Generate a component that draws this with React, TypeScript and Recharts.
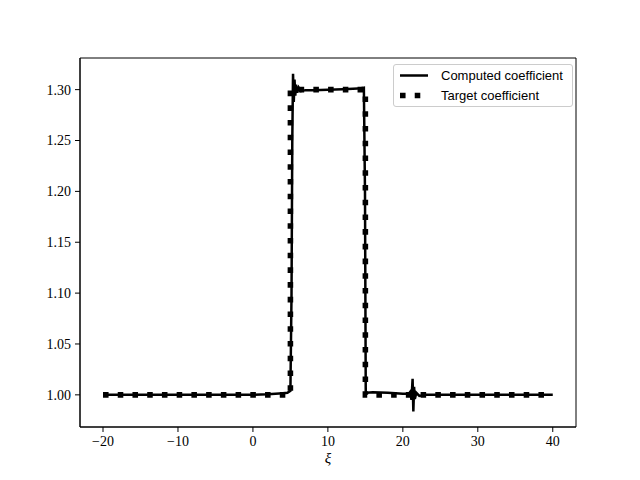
import { LineChart, Line, XAxis, YAxis, ReferenceArea } from "recharts";

// computed coefficient
const computedXi = [
  -20, -15, -10, -5, 0, 2, 3, 4, 4.6, 5.0, 5.15, 5.25, 5.35, 5.45, 5.55, 5.65,
  5.75, 5.9, 6.1, 6.4, 7, 8, 10, 12, 14, 14.8, 14.95, 15.05, 15.2, 16, 18, 19,
  20, 20.8, 21.0, 21.15, 21.3, 21.4, 21.5, 21.6, 21.8, 22.2, 23, 30, 40,
];
const computedValue = [
  1.0, 1.0, 1.0, 1.0, 1.0, 1.0005, 1.001, 1.0015, 1.002, 1.004, 1.1, 1.25,
  1.3157, 1.288, 1.31, 1.294, 1.305, 1.297, 1.302, 1.2985, 1.2995, 1.2995, 1.3,
  1.3005, 1.301, 1.302, 1.2, 1.002, 1.002, 1.0025, 1.002, 1.0015, 1.001, 1.001,
  1.003, 0.995, 1.0157, 0.9836, 1.008, 0.996, 1.002, 0.999, 1.0, 1.0, 1.0,
];

// target coefficient
const targetXi = [-20, 5, 5, 15, 15, 40];
const targetValue = [1.0, 1.0, 1.3, 1.3, 1.0, 1.0];

const xTicks = [-20, -10, 0, 10, 20, 30, 40];
const yTicks = [1.0, 1.05, 1.1, 1.15, 1.2, 1.25, 1.3];
const xDomain = [-23.07, 43.1];
const yDomain = [0.9684, 1.3311];

const computedData = computedXi.map((xi, i) => ({ xi, value: computedValue[i] }));
const targetData = targetXi.map((xi, i) => ({ xi, value: targetValue[i] }));

const tickFont = { fill: "#000", fontSize: 14, fontFamily: "'Liberation Serif', serif" };
const fmtX = (v: number) => (v < 0 ? "\u2212" + Math.abs(v) : String(v));
const dotted = "5.56 9.17";

export default function App() {
  return (
    <div style={{ position: "absolute", left: 0, top: 0, width: 640, height: 480, background: "#fff" }}>
      <LineChart
        width={640}
        height={480}
        margin={{ top: 58, right: 64, bottom: 13, left: 0 }}
      >
        <XAxis
          dataKey="xi"
          type="number"
          domain={xDomain}
          ticks={xTicks}
          allowDataOverflow
          tickFormatter={fmtX}
          tick={tickFont}
          tickSize={5}
          tickMargin={4}
          height={40}
          axisLine={{ stroke: "#000" }}
          tickLine={{ stroke: "#000" }}
          label={{
            value: "ξ",
            position: "insideBottom",
            offset: 4,
            fill: "#000",
            fontSize: 15,
            fontStyle: "italic",
            fontFamily: "'Liberation Serif', serif",
          }}
        />
        <YAxis
          dataKey="value"
          type="number"
          domain={yDomain}
          ticks={yTicks}
          allowDataOverflow
          tickFormatter={(v: number) => v.toFixed(2)}
          tick={tickFont}
          tickSize={5}
          tickMargin={4}
          width={80}
          axisLine={{ stroke: "#000" }}
          tickLine={{ stroke: "#000" }}
        />
        <ReferenceArea
          x1={xDomain[0]}
          x2={xDomain[1]}
          y1={yDomain[0]}
          y2={yDomain[1]}
          fill="none"
          stroke="#000"
          strokeWidth={1}
          ifOverflow="visible"
        />
        <Line
          data={computedData}
          dataKey="value"
          type="linear"
          stroke="#000"
          strokeWidth={2.5}
          dot={false}
          isAnimationActive={false}
          name="Computed coefficient"
        />
        <Line
          data={targetData}
          dataKey="value"
          type="linear"
          stroke="#000"
          strokeWidth={5.56}
          strokeDasharray={dotted}
          strokeLinecap="butt"
          dot={false}
          isAnimationActive={false}
          name="Target coefficient"
        />
      </LineChart>
      <div
        style={{
          position: "absolute",
          left: 393,
          top: 64,
          width: 178,
          height: 41,
          border: "1px solid #ccc",
          borderRadius: 3,
          background: "rgba(255,255,255,0.8)",
          fontFamily: "'Liberation Sans', sans-serif",
          fontSize: 13,
          color: "#000",
        }}
      >
        <svg width={40} height={41} style={{ position: "absolute", left: 0, top: 0 }}>
          <line x1={6} x2={34} y1={10.5} y2={10.5} stroke="#000" strokeWidth={2.5} />
          <line x1={6} x2={34} y1={30.5} y2={30.5} stroke="#000" strokeWidth={5.56} strokeDasharray={dotted} />
        </svg>
        <div style={{ position: "absolute", left: 47, top: 2, lineHeight: "18px", whiteSpace: "nowrap" }}>
          Computed coefficient
        </div>
        <div style={{ position: "absolute", left: 47, top: 22, lineHeight: "18px", whiteSpace: "nowrap" }}>
          Target coefficient
        </div>
      </div>
    </div>
  );
}
